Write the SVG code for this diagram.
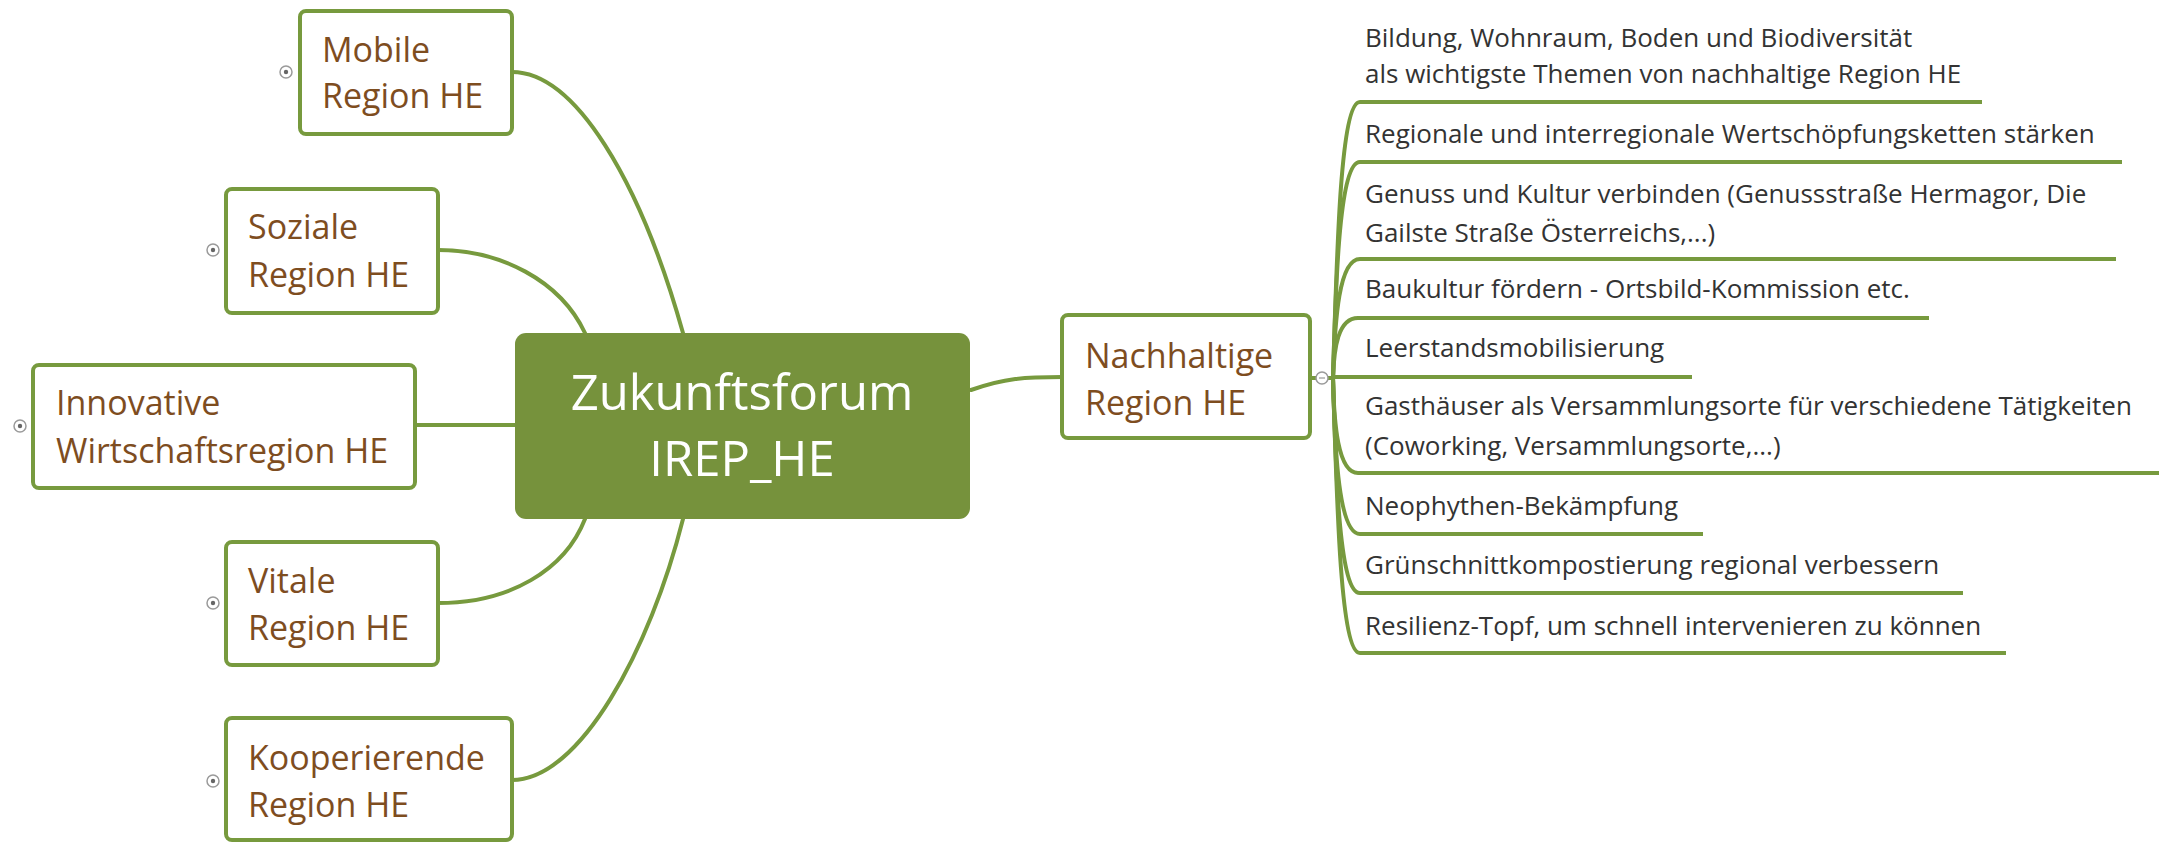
<svg xmlns="http://www.w3.org/2000/svg" width="2159" height="842" viewBox="0 0 2159 842">
<style>
.bg{fill:#ffffff}
.box{fill:#ffffff;stroke:#779a3e;stroke-width:4}
.center{fill:#76923c}
.ct{font-family:"Open Sans","Liberation Sans",sans-serif;font-size:49px;fill:#ffffff;text-anchor:middle}
.bt{font-family:"Open Sans","Liberation Sans",sans-serif;font-size:34px;fill:#7e4d1f}
.it{font-family:"Open Sans","Liberation Sans",sans-serif;font-size:26px;fill:#333333}
.con{fill:none;stroke:#779a3e;stroke-width:4;stroke-linecap:round}
.ul{fill:none;stroke:#779a3e;stroke-width:4}
.mk{fill:#ffffff;stroke:#9a9a9a;stroke-width:1.5}
.mkd{fill:#666666}
</style>
<rect class="bg" x="0" y="0" width="2159" height="842"/>
<g id="connectors">
<path class="con" d="M512,72 C575,72 640,180 683,333"/>
<path class="con" d="M438,250 C500,250 560,280 585,333"/>
<path class="con" d="M415,425 H515"/>
<path class="con" d="M438,603 C510,603 565,570 585,519"/>
<path class="con" d="M512,780 C580,780 650,650 683,519"/>
<path class="con" d="M971,390 C1005,378 1025,377 1062,377"/>
<path class="con" d="M1310,378 H1333"/>
<path class="ul" d="M1333,378 C1337,240 1341,102 1360,102 H1982"/>
<path class="ul" d="M1333,378 C1336,270 1340,162 1360,162 H2122"/>
<path class="ul" d="M1333,378 C1335,318 1339,259 1360,259 H2116"/>
<path class="ul" d="M1333,378 C1334,348 1338,318 1358,318 H1929"/>
<path class="ul" d="M1333,377 H1692"/>
<path class="ul" d="M1333,378 C1334,425 1338,473 1358,473 H2159"/>
<path class="ul" d="M1333,378 C1335,456 1339,534 1360,534 H1703"/>
<path class="ul" d="M1333,378 C1336,486 1340,593 1360,593 H1963"/>
<path class="ul" d="M1333,378 C1337,515 1341,653 1360,653 H2006"/>
</g>
<g id="center">
<rect class="center" x="515" y="333" width="455" height="186" rx="11"/>
<text class="ct" x="742" y="410">Zukunftsforum</text>
<text class="ct" x="742" y="476">IREP_HE</text>
</g>
<g id="mobile">
<rect class="box" x="300" y="11" width="212" height="123" rx="6"/>
<text class="bt" x="322" y="62">Mobile</text>
<text class="bt" x="322" y="108">Region HE</text>
<circle class="mk" cx="286" cy="72" r="6"/><circle class="mkd" cx="286" cy="72" r="2.2"/>
</g>
<g id="soziale">
<rect class="box" x="226" y="189" width="212" height="124" rx="6"/>
<text class="bt" x="248" y="239">Soziale</text>
<text class="bt" x="248" y="287">Region HE</text>
<circle class="mk" cx="213" cy="250" r="6"/><circle class="mkd" cx="213" cy="250" r="2.2"/>
</g>
<g id="innovative">
<rect class="box" x="33" y="365" width="382" height="123" rx="6"/>
<text class="bt" x="56" y="415">Innovative</text>
<text class="bt" x="56" y="463">Wirtschaftsregion HE</text>
<circle class="mk" cx="20" cy="426" r="6"/><circle class="mkd" cx="20" cy="426" r="2.2"/>
</g>
<g id="vitale">
<rect class="box" x="226" y="542" width="212" height="123" rx="6"/>
<text class="bt" x="248" y="593">Vitale</text>
<text class="bt" x="248" y="640">Region HE</text>
<circle class="mk" cx="213" cy="603" r="6"/><circle class="mkd" cx="213" cy="603" r="2.2"/>
</g>
<g id="kooperierende">
<rect class="box" x="226" y="718" width="286" height="122" rx="6"/>
<text class="bt" x="248" y="770">Kooperierende</text>
<text class="bt" x="248" y="817">Region HE</text>
<circle class="mk" cx="213" cy="781" r="6"/><circle class="mkd" cx="213" cy="781" r="2.2"/>
</g>
<g id="nachhaltige">
<rect class="box" x="1062" y="315" width="248" height="123" rx="6"/>
<text class="bt" x="1085" y="368">Nachhaltige</text>
<text class="bt" x="1085" y="415">Region HE</text>
<circle class="mk" cx="1322" cy="378" r="6"/><path d="M1319,378 H1325" stroke="#9a9a9a" stroke-width="1.2"/>
</g>
<g id="item1"><text class="it" x="1365" y="47">Bildung, Wohnraum, Boden und Biodiversität</text><text class="it" x="1365" y="83">als wichtigste Themen von nachhaltige Region HE</text></g>
<g id="item2"><text class="it" x="1365" y="143">Regionale und interregionale Wertschöpfungsketten stärken</text></g>
<g id="item3"><text class="it" x="1365" y="203">Genuss und Kultur verbinden (Genussstraße Hermagor, Die</text><text class="it" x="1365" y="242">Gailste Straße Österreichs,...)</text></g>
<g id="item4"><text class="it" x="1365" y="298">Baukultur fördern - Ortsbild-Kommission etc.</text></g>
<g id="item5"><text class="it" x="1365" y="357">Leerstandsmobilisierung</text></g>
<g id="item6"><text class="it" x="1365" y="415">Gasthäuser als Versammlungsorte für verschiedene Tätigkeiten</text><text class="it" x="1365" y="455">(Coworking, Versammlungsorte,...)</text></g>
<g id="item7"><text class="it" x="1365" y="515">Neophythen-Bekämpfung</text></g>
<g id="item8"><text class="it" x="1365" y="574">Grünschnittkompostierung regional verbessern</text></g>
<g id="item9"><text class="it" x="1365" y="635">Resilienz-Topf, um schnell intervenieren zu können</text></g>
</svg>
